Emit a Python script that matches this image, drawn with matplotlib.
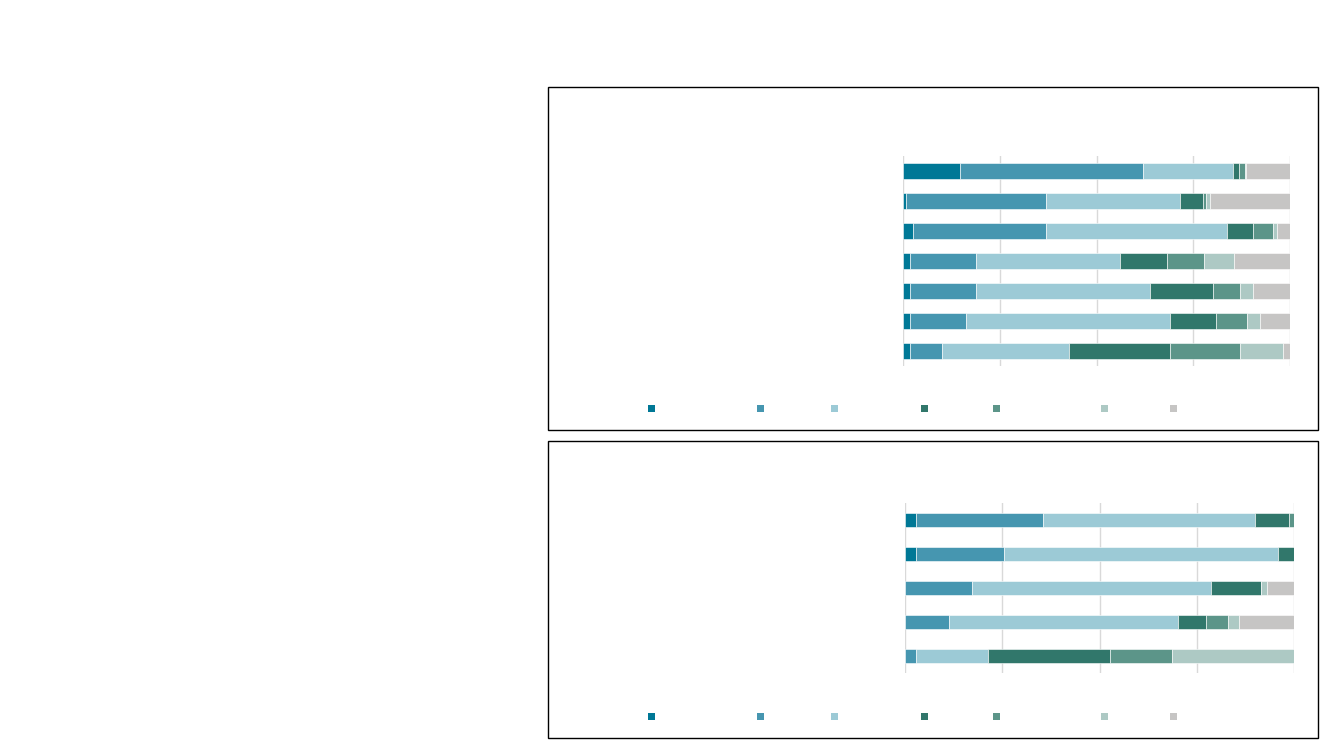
import matplotlib
matplotlib.use("Agg")
import matplotlib.pyplot as plt
from matplotlib.patches import Rectangle
import numpy as np

# segment colours, darkest teal first, grey last
colors = ["#007896", "#4696b0", "#9ccad6", "#31776b", "#5c9589", "#adc9c4", "#c6c5c4"]

# top panel, 7 rows (top to bottom), shares in %
top_c1 = [14.6, 0.7, 2.6, 1.7, 1.7, 1.7, 1.7]
top_c2 = [47.3, 36.3, 34.4, 17.2, 17.2, 14.6, 8.5]
top_c3 = [23.3, 34.6, 46.6, 37.2, 44.9, 52.7, 32.8]
top_c4 = [1.7, 6.0, 6.9, 12.0, 16.4, 12.0, 25.9]
top_c5 = [1.5, 0.7, 5.2, 9.6, 6.9, 7.8, 18.1]
top_c6 = [0.2, 1.0, 0.9, 7.8, 3.4, 3.5, 11.2]
top_c7 = [11.4, 20.7, 3.4, 14.5, 9.5, 7.7, 1.8]

# bottom panel, 5 rows
bot_c1 = [2.7, 2.7, 0.0, 0.0, 0.0]
bot_c2 = [32.9, 22.8, 17.2, 11.4, 2.7]
bot_c3 = [54.5, 70.3, 61.4, 58.7, 18.7]
bot_c4 = [8.6, 4.2, 12.9, 7.2, 31.4]
bot_c5 = [1.3, 0.0, 0.0, 5.7, 15.8]
bot_c6 = [0.0, 0.0, 1.5, 2.8, 31.4]
bot_c7 = [0.0, 0.0, 7.0, 14.2, 0.0]

W, H = 1333, 750
fig = plt.figure(figsize=(13.33, 7.5), dpi=100)


def px_box(x0, y0, x1, y1):
    # pixel box -> figure fraction [left, bottom, width, height]
    return [x0 / W, 1 - y1 / H, (x1 - x0) / W, (y1 - y0) / H]


def stacked(ax, series, height):
    n = len(series[0])
    y = np.arange(n)
    left = np.zeros(n)
    for vals, c in zip(series, colors):
        vals = np.array(vals)
        ax.barh(y, vals, left=left, height=height, color=c,
                edgecolor="white", linewidth=0.4)
        left += vals
    ax.set_xlim(0, 100)
    ax.set_ylim(n - 0.5, -0.5)
    ax.set_xticks([0, 25, 50, 75, 100])
    ax.set_yticks([])
    ax.tick_params(length=0, labelbottom=False)
    ax.grid(axis="x", color="#d9d9d9", linewidth=1)
    ax.set_axisbelow(True)
    for s in ax.spines.values():
        s.set_visible(False)


# panel frames
for box in [(548, 87, 1318, 430), (548, 441, 1318, 738)]:
    x0, y0, x1, y1 = box
    fig.add_artist(Rectangle((x0 / W, 1 - y1 / H), (x1 - x0) / W, (y1 - y0) / H,
                             transform=fig.transFigure, fill=False,
                             edgecolor="black", linewidth=1))

ax1 = fig.add_axes(px_box(903, 156, 1290, 366))
stacked(ax1, [top_c1, top_c2, top_c3, top_c4, top_c5, top_c6, top_c7], 0.53)

ax2 = fig.add_axes(px_box(905, 503, 1294, 673))
stacked(ax2, [bot_c1, bot_c2, bot_c3, bot_c4, bot_c5, bot_c6, bot_c7], 0.41)

# legend keys (labels are blank in the original)
key_x = [651, 760, 834, 924, 996, 1104, 1173]
for ky in [408, 716]:
    for kx, c in zip(key_x, colors):
        fig.add_artist(Rectangle(((kx - 3.5) / W, 1 - (ky + 3.5) / H), 7 / W, 7 / H,
                                 transform=fig.transFigure, color=c, linewidth=0))

fig.savefig("out.png", dpi=100)
